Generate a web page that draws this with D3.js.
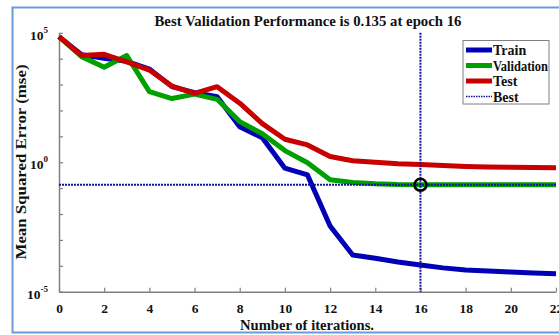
<!DOCTYPE html>
<html>
<head>
<meta charset="utf-8">
<script src="https://cdn.jsdelivr.net/npm/d3@7/dist/d3.min.js"></script>
<style>
  html, body { margin: 0; padding: 0; background: #fff; }
  svg { display: block; }
  text { font-family: "Liberation Serif", "Times New Roman", serif; font-weight: bold; fill: #111; }
</style>
</head>
<body>
<svg id="chart" width="559" height="335"></svg>
<script>
// Training record: mean squared error per epoch (log10 of mse)
const epochs = d3.range(0, 23);
const trainLog = [4.85, 4.15, 4.02, 3.90, 3.60, 2.92, 2.69, 2.53, 1.37, 0.95, -0.23, -0.49, -2.46, -3.58, -3.71, -3.85, -3.97, -4.08, -4.16, -4.20, -4.24, -4.28, -4.31];
const validationLog = [4.85, 4.08, 3.67, 4.12, 2.73, 2.46, 2.63, 2.43, 1.57, 1.10, 0.45, -0.02, -0.68, -0.78, -0.83, -0.86, -0.87, -0.87, -0.87, -0.87, -0.87, -0.87, -0.87];
const testLog = [4.85, 4.12, 4.17, 3.88, 3.56, 2.94, 2.66, 2.92, 2.28, 1.49, 0.89, 0.67, 0.22, 0.06, 0.00, -0.06, -0.09, -0.13, -0.16, -0.18, -0.19, -0.20, -0.21];
const bestEpoch = 16;
const bestValue = 0.135;
const xTicks = [0, 2, 4, 6, 8, 10, 12, 14, 16, 18, 20, 22];
const yTicks = [1e5, 1e4, 1e3, 1e2, 1e1, 1e0, 1e-1, 1e-2, 1e-3, 1e-4, 1e-5];
const yLabelExponents = [5, 0, -5];
const seriesNames = ["Train", "Validation", "Test"];
const seriesColors = ["#0000b4", "#00a000", "#c80000"];

const svg = d3.select("#chart");

// Outer frame
svg.append("rect")
  .attr("x", 12.5).attr("y", 7.5)
  .attr("width", 560).attr("height", 325)
  .attr("fill", "none")
  .attr("stroke", "#6a9bd6")
  .attr("stroke-width", 2);

const x = d3.scaleLinear().domain([0, 22]).range([59, 556]);
const y = d3.scaleLog().domain([1e-5, 1e5]).range([291.7, 32.8]);

// Axes with ticks pointing into the plot
const xAxis = d3.axisBottom(x).tickValues(xTicks).tickSizeInner(-4).tickSizeOuter(0).tickPadding(12);
const gx = svg.append("g").attr("transform", `translate(0,${y(1e-5)})`).call(xAxis);
gx.select(".domain").attr("stroke", "#808080").attr("stroke-width", 1.5);
gx.selectAll(".tick line").attr("stroke", "#808080").attr("stroke-width", 1.2);
gx.selectAll(".tick text").attr("font-size", 13.5).attr("font-family", "Liberation Serif").attr("font-weight", "bold").attr("fill", "#111");

const yAxis = d3.axisLeft(y).tickValues(yTicks).tickSizeInner(-4).tickSizeOuter(0).tickFormat("");
const gy = svg.append("g").attr("transform", `translate(${x(0)},0)`).call(yAxis);
gy.select(".domain").attr("stroke", "#808080").attr("stroke-width", 1.5);
gy.selectAll(".tick line").attr("stroke", "#808080").attr("stroke-width", 1.2);

// Decade labels as 10 with a superscript exponent
const yLab = svg.append("g");
yLabelExponents.forEach(e => {
  const t = yLab.append("text")
    .attr("x", 48).attr("y", y(Math.pow(10, e)) + 7)
    .attr("text-anchor", "end")
    .attr("font-size", 13.5);
  t.append("tspan").text("10");
  t.append("tspan").attr("dy", -7).attr("font-size", 9).text(e);
});

// Series lines
const line = d3.line()
  .x((d, i) => x(epochs[i]))
  .y(d => y(Math.pow(10, d)));

[trainLog, validationLog, testLog].forEach((s, k) => {
  svg.append("path")
    .datum(s)
    .attr("d", line)
    .attr("fill", "none")
    .attr("stroke", seriesColors[k])
    .attr("stroke-width", 5)
    .attr("stroke-linejoin", "round")
    .attr("stroke-linecap", "butt");
});

// Best epoch markers
const bestColor = "#14149a";
svg.append("line")
  .attr("x1", x(bestEpoch)).attr("x2", x(bestEpoch))
  .attr("y1", y(1e5)).attr("y2", y(1e-5))
  .attr("stroke", bestColor).attr("stroke-width", 2)
  .attr("stroke-dasharray", "2,1");
svg.append("line")
  .attr("x1", x(0)).attr("x2", x(22))
  .attr("y1", y(bestValue)).attr("y2", y(bestValue))
  .attr("stroke", bestColor).attr("stroke-width", 2)
  .attr("stroke-dasharray", "2,1");
svg.append("circle")
  .attr("cx", x(bestEpoch)).attr("cy", y(bestValue))
  .attr("r", 6)
  .attr("fill", "none")
  .attr("stroke", "#000").attr("stroke-width", 2.5);

// Title and axis labels
svg.append("text")
  .attr("x", 308).attr("y", 26)
  .attr("text-anchor", "middle")
  .attr("font-size", 15.5)
  .attr("textLength", 307).attr("lengthAdjust", "spacingAndGlyphs")
  .text(`Best Validation Performance is ${bestValue} at epoch ${bestEpoch}`);

svg.append("text")
  .attr("x", 307).attr("y", 330)
  .attr("text-anchor", "middle")
  .attr("font-size", 15)
  .attr("textLength", 134).attr("lengthAdjust", "spacingAndGlyphs")
  .text("Number of iterations.");

svg.append("text")
  .attr("transform", "translate(26,162) rotate(-90)")
  .attr("text-anchor", "middle")
  .attr("font-size", 14.5)
  .attr("textLength", 195).attr("lengthAdjust", "spacingAndGlyphs")
  .text("Mean Squared Error  (mse)");

// Legend
const lg = svg.append("g");
lg.append("rect")
  .attr("x", 463).attr("y", 40.5)
  .attr("width", 86).attr("height", 63.5)
  .attr("fill", "#fff")
  .attr("stroke", "#808080").attr("stroke-width", 1);
const legendNames = seriesNames.concat(["Best"]);
legendNames.forEach((name, i) => {
  const yy = 50 + i * 15.5;
  const ln = lg.append("line")
    .attr("x1", 466).attr("x2", 492)
    .attr("y1", yy).attr("y2", yy);
  if (i < 3) {
    ln.attr("stroke", seriesColors[i]).attr("stroke-width", 5);
  } else {
    ln.attr("stroke", bestColor).attr("stroke-width", 1.5).attr("stroke-dasharray", "1.5,1");
  }
  lg.append("text")
    .attr("x", 493).attr("y", yy + 5)
    .attr("font-size", 14)
    .attr("textLength", name.length > 5 ? 55 : null)
    .attr("lengthAdjust", "spacingAndGlyphs")
    .text(name);
});
</script>
</body>
</html>
